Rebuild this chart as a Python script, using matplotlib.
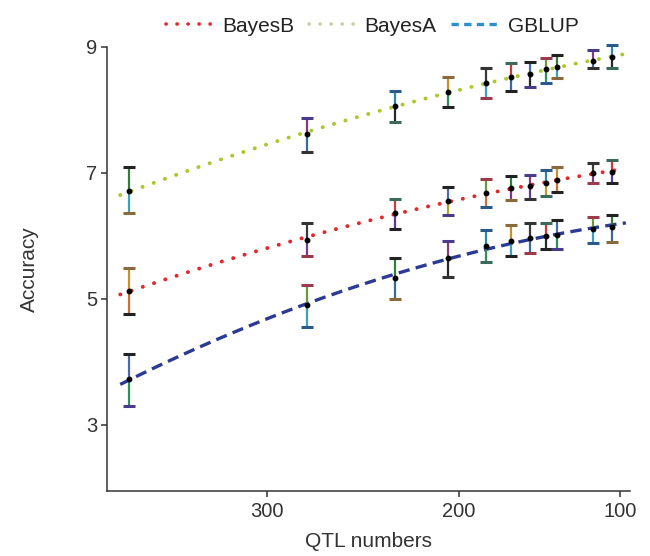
import numpy as np
import matplotlib
matplotlib.use("Agg")
import matplotlib.pyplot as plt
from matplotlib.lines import Line2D

plt.rcParams['font.family'] = ['Liberation Sans', 'DejaVu Sans']

# ---- data ----
qtl = [365, 280, 235, 206, 185, 170, 159, 149, 142, 119, 106]

bayesA = [6.71, 7.62, 8.06, 8.29, 8.43, 8.52, 8.57, 8.65, 8.68, 8.78, 8.84]
bayesA_hi = [7.10, 7.87, 8.30, 8.52, 8.67, 8.75, 8.76, 8.83, 8.87, 8.95, 9.03]
bayesA_lo = [6.37, 7.33, 7.81, 8.05, 8.19, 8.30, 8.37, 8.43, 8.51, 8.67, 8.67]

bayesB = [5.13, 5.94, 6.37, 6.56, 6.68, 6.76, 6.79, 6.84, 6.89, 7.00, 7.02]
bayesB_hi = [5.49, 6.21, 6.59, 6.78, 6.90, 6.95, 6.97, 7.05, 7.10, 7.16, 7.21]
bayesB_lo = [4.76, 5.68, 6.11, 6.33, 6.46, 6.57, 6.59, 6.63, 6.70, 6.84, 6.84]

gblup = [3.73, 4.90, 5.33, 5.65, 5.84, 5.92, 5.97, 6.00, 6.02, 6.11, 6.14]
gblup_hi = [4.13, 5.22, 5.65, 5.92, 6.10, 6.17, 6.21, 6.21, 6.25, 6.30, 6.33]
gblup_lo = [3.30, 4.56, 5.00, 5.35, 5.59, 5.68, 5.73, 5.79, 5.79, 5.89, 5.90]

y_ticks = [3, 5, 7, 9]
x_ticks = [300, 200, 100]
series_names = ['BayesB', 'BayesA', 'GBLUP']

# ---- styles ----
curve_colors = {'BayesA': '#a9c82a', 'BayesB': '#e2282c', 'GBLUP': '#2b3a92'}
legend_colors = {'BayesB': '#e2282c', 'BayesA': '#c3d49a', 'GBLUP': '#2c8fd0'}
bar_top = ['#2f7f3a', '#8a3a7a', '#2a8aa8', '#c8902a', '#3a3a3a', '#cc3b3b', '#4a6ab0', '#6a9a3a']
bar_bot = ['#5a3a9a', '#3aa0c0', '#b0a030', '#3a6a9a', '#d07030', '#2a2a2a', '#7a3a8a', '#2f8f5a']
cap_cols = ['#222222', '#4a3a8a', '#2a5a8a', '#8a6a3a', '#333333', '#3a6a5a', '#222222', '#9a3a4a']

dot = (0, (0.05, 3.0))
dash = (0, (3.4, 1.9))

fig = plt.figure(figsize=(6.5, 5.56), dpi=100)
ax = fig.add_axes([107/650, 1-491/556, (630-107)/650, (491-47)/556])

p = 1.34
fwd = lambda v: np.power(np.abs(v), p)
inv = lambda v: np.power(np.abs(v), 1/p)
ax.set_xscale('function', functions=(fwd, inv))
ax.set_xlim(375, 93)
ax.set_ylim(1.952, 9)

xs = np.array(qtl, dtype=float)
xfit = inv(np.linspace(fwd(369), fwd(96), 300))

def fit_curve(y):
    c = np.polyfit(fwd(xs), np.array(y), 2)
    return np.polyval(c, fwd(xfit))

curves = [('BayesA', bayesA, dot), ('BayesB', bayesB, dot), ('GBLUP', gblup, dash)]
for name, y, ls in curves:
    ax.plot(xfit, fit_curve(y), color=curve_colors[name],
            lw=2.8 if ls is dot else 2.4, linestyle=ls,
            dash_capstyle='round' if ls is dot else 'butt', zorder=2)

k = 0
for y, hi, lo in [(bayesA, bayesA_hi, bayesA_lo), (bayesB, bayesB_hi, bayesB_lo),
                  (gblup, gblup_hi, gblup_lo)]:
    for i in range(len(xs)):
        ct = bar_top[(k + i) % len(bar_top)]
        cb = bar_bot[(k + 2*i + 1) % len(bar_bot)]
        ax.vlines(xs[i], y[i], hi[i], color=ct, lw=1.6, zorder=3, clip_on=False)
        ax.vlines(xs[i], lo[i], y[i], color=cb, lw=1.6, zorder=3, clip_on=False)
        ax.plot([xs[i]], [hi[i]], marker='_', ms=8.5, mew=2.2,
                color=cap_cols[(k + i) % len(cap_cols)], zorder=4, clip_on=False)
        ax.plot([xs[i]], [lo[i]], marker='_', ms=8.5, mew=2.2,
                color=cap_cols[(k + i + 3) % len(cap_cols)], zorder=4, clip_on=False)
    ax.plot(xs, y, 'o', color='black', ms=3.2, zorder=5, linestyle='none', clip_on=False)
    k += 3

for s in ['top', 'right']:
    ax.spines[s].set_visible(False)
for s in ['left', 'bottom']:
    ax.spines[s].set_color('#333333')
    ax.spines[s].set_linewidth(1.1)

ax.set_yticks(y_ticks)
ax.set_xticks(x_ticks)
ax.set_xticklabels([str(t) for t in x_ticks])
ax.xaxis.set_minor_locator(matplotlib.ticker.NullLocator())
ax.tick_params(axis='both', direction='out', length=4, width=1.1, color='#333333',
               labelsize=14.5, labelcolor='#333333', pad=3)
ax.tick_params(axis='x', pad=4)
ax.set_xlabel('QTL numbers', fontsize=15, color='#333333', labelpad=8)
ax.set_ylabel('Accuracy', fontsize=15, color='#333333', labelpad=34)

handles = [
    Line2D([0], [0], color=legend_colors['BayesB'], lw=2.6, linestyle=dot, dash_capstyle='round'),
    Line2D([0], [0], color=legend_colors['BayesA'], lw=2.6, linestyle=dot, dash_capstyle='round'),
    Line2D([0], [0], color=legend_colors['GBLUP'], lw=2.4, linestyle=(0, (2.2, 1.6))),
]
fig.legend(handles, series_names, loc='center', bbox_to_anchor=(372/650, 1-26/556),
           ncol=3, frameon=False, fontsize=15, handlelength=2.2, handletextpad=0.5,
           columnspacing=0.7, labelcolor='#222222')

fig.savefig('out.png', dpi=100)
